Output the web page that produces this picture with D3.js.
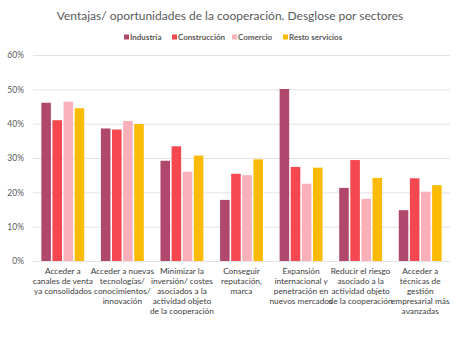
<!DOCTYPE html>
<html>
<head>
<meta charset="utf-8">
<script src="https://cdn.jsdelivr.net/npm/d3@7"></script>
<style>
  body { margin: 0; background: #fff; }
  svg { display: block; font-family: Lato, "Open Sans", sans-serif; }
</style>
</head>
<body>
<script>
// categories (lines of each label) and percentages per sector
var categories = [
  ["Acceder a", "canales de venta", "ya consolidados"],
  ["Acceder a nuevas", "tecnologías/", "conocimientos/", "innovación"],
  ["Minimizar la", "inversión/ costes", "asociados a la", "actividad objeto", "de la cooperación"],
  ["Conseguir", "reputación,", "marca"],
  ["Expansión", "internacional y", "penetración en", "nuevos mercados"],
  ["Reducir el riesgo", "asociado a la", "actividad objeto", "de la cooperación"],
  ["Acceder a", "técnicas de", "gestión", "empresarial más", "avanzadas"]
]
var sectors = ["Industria", "Construcción", "Comercio", "Resto servicios"]
var industria    = [46.1, 38.6, 29.2, 17.8, 50.1, 21.3, 14.8]
var construccion = [41.0, 38.3, 33.4, 25.4, 27.4, 29.4, 24.1]
var comercio     = [46.4, 40.8, 26.0, 25.0, 22.5, 18.1, 20.2]
var resto        = [44.5, 39.9, 30.7, 29.6, 27.2, 24.2, 22.1]
var yTicks = [0, 10, 20, 30, 40, 50, 60]

var series = [industria, construccion, comercio, resto]
var colors = ["#b0486e", "#f5474f", "#f9b0b8", "#fbbb05"]

var width = 460, height = 340
var margin = {top: 55, right: 10, bottom: 79, left: 33}

var svg = d3.select("body").append("svg")
    .attr("width", width)
    .attr("height", height)

// title
svg.append("text")
    .attr("x", 230)
    .attr("y", 20)
    .attr("text-anchor", "middle")
    .attr("fill", "#595959")
    .style("font-size", "12px")
    .text("Ventajas/ oportunidades de la cooperación. Desglose por sectores")

var x0 = d3.scaleBand()
    .domain(d3.range(categories.length))
    .range([margin.left, width - margin.right])
    .paddingInner(0.28)
    .paddingOuter(0.14)

var x1 = d3.scaleBand()
    .domain(d3.range(sectors.length))
    .range([0, x0.bandwidth()])
    .paddingInner(0.14)

var y = d3.scaleLinear()
    .domain([0, 60])
    .range([height - margin.bottom, margin.top])

// gridlines and y labels
var yAxis = svg.append("g")
    .attr("transform", "translate(" + margin.left + ",0)")
    .call(d3.axisLeft(y)
        .tickValues(yTicks)
        .tickSize(-(width - margin.left - margin.right))
        .tickPadding(9)
        .tickFormat(function(d) { return d + "%"; }))

yAxis.select(".domain").remove()
yAxis.selectAll(".tick line").attr("stroke", "#e3e3e3")
yAxis.selectAll(".tick text")
    .attr("fill", "#595959")
    .style("font-size", "8.5px")
    .style("font-family", "Lato, sans-serif")

// bars
var groups = svg.append("g").selectAll("g")
    .data(categories)
  .enter().append("g")
    .attr("transform", function(d, i) { return "translate(" + x0(i) + ",0)"; })

groups.selectAll("rect")
    .data(function(d, i) { return series.map(function(s) { return s[i]; }); })
  .enter().append("rect")
    .attr("x", function(d, j) { return x1(j); })
    .attr("y", function(d) { return y(d); })
    .attr("width", x1.bandwidth())
    .attr("height", function(d) { return y(0) - y(d); })
    .attr("fill", function(d, j) { return colors[j]; })

// category labels
var labels = svg.append("g").selectAll("text")
    .data(categories)
  .enter().append("text")
    .attr("x", function(d, i) { return x0(i) + x0.bandwidth() / 2; })
    .attr("y", y(0) + 13)
    .attr("text-anchor", "middle")
    .attr("fill", "#404040")
    .style("font-size", "8.3px")

labels.selectAll("tspan")
    .data(function(d) { return d; })
  .enter().append("tspan")
    .attr("x", function() { return d3.select(this.parentNode).attr("x"); })
    .attr("dy", function(d, k) { return k === 0 ? 0 : 10; })
    .text(function(d) { return d; })

// legend
var legendX = [124, 172, 232, 283]
var legend = svg.append("g").selectAll("g")
    .data(sectors)
  .enter().append("g")
    .attr("transform", function(d, j) { return "translate(" + legendX[j] + ",37)"; })

legend.append("rect")
    .attr("x", 0)
    .attr("y", -2.5)
    .attr("width", 5)
    .attr("height", 5)
    .attr("fill", function(d, j) { return colors[j]; })

legend.append("text")
    .attr("x", 6)
    .attr("y", 3)
    .attr("fill", "#595959")
    .style("font-size", "8px")
    .style("font-weight", "bold")
    .text(function(d) { return d; })
</script>
</body>
</html>
